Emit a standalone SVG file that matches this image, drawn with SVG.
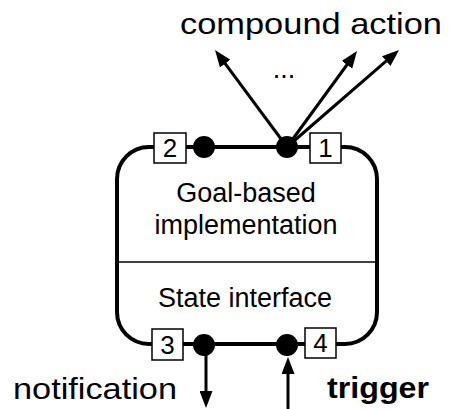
<svg xmlns="http://www.w3.org/2000/svg" width="450" height="409" viewBox="0 0 450 409">
  <style>
    text { font-family: "Liberation Sans", Arial, Helvetica, sans-serif; fill: #000; }
    .big { font-size: 30px; }
    .body { font-size: 27px; text-anchor: middle; }
    .num { font-size: 26px; text-anchor: middle; }
    .port { fill: #fff; stroke: #000; stroke-width: 1.5; }
    .dot { fill: #000; }
    .arrow { stroke: #000; stroke-width: 3; fill: none; marker-end: url(#head); }
  </style>
  <defs>
    <marker id="head" markerUnits="userSpaceOnUse" markerWidth="17" markerHeight="13" refX="9" refY="6.5" orient="auto">
      <path d="M0,0 L17,6.5 L0,13 Z" fill="#000"/>
    </marker>
  </defs>

  <rect width="450" height="409" fill="#fff"/>

  <!-- connectors -->
  <g id="connectors">
    <line class="arrow" x1="287" y1="147" x2="219.8" y2="56.4"/>
    <line class="arrow" x1="287" y1="147" x2="352.3" y2="57.5"/>
    <line class="arrow" x1="287" y1="147" x2="393" y2="55.2"/>
    <line class="arrow" x1="206" y1="345" x2="206" y2="400"/>
    <line class="arrow" x1="288" y1="412" x2="288" y2="365"/>
  </g>

  <!-- component -->
  <g id="component">
    <rect x="117" y="147" width="260" height="197" rx="32" ry="32" fill="none" stroke="#000" stroke-width="4"/>
    <line x1="117" y1="262" x2="377" y2="262" stroke="#000" stroke-width="1.5"/>
    <text class="body" x="246" y="202">Goal-based</text>
    <text class="body" x="246" y="234">implementation</text>
    <text class="body" x="245" y="307">State interface</text>
  </g>

  <!-- ports -->
  <g id="port2">
    <rect class="port" x="154" y="133" width="32" height="30"/>
    <text class="num" x="170" y="157">2</text>
  </g>
  <g id="port1">
    <rect class="port" x="310" y="133" width="31" height="30"/>
    <text class="num" x="325.5" y="157">1</text>
  </g>
  <g id="port3">
    <rect class="port" x="152" y="329" width="31" height="31"/>
    <text class="num" x="167.5" y="354">3</text>
  </g>
  <g id="port4">
    <rect class="port" x="305" y="328" width="31" height="30"/>
    <text class="num" x="320.5" y="352">4</text>
  </g>

  <!-- junction dots -->
  <g id="junctions">
    <circle class="dot" cx="204" cy="147" r="11"/>
    <circle class="dot" cx="287" cy="147" r="11"/>
    <circle class="dot" cx="204" cy="345" r="11"/>
    <circle class="dot" cx="287" cy="345" r="11"/>
  </g>

  <!-- labels -->
  <g id="labels">
    <text class="big" x="180" y="34" textLength="262" lengthAdjust="spacingAndGlyphs">compound action</text>
    <text class="body" x="284" y="78">...</text>
    <text class="big" x="13" y="399" font-size="29" textLength="164" lengthAdjust="spacingAndGlyphs">notification</text>
    <text class="big" x="327" y="398" font-size="29" font-weight="bold" textLength="102" lengthAdjust="spacingAndGlyphs">trigger</text>
  </g>
</svg>
